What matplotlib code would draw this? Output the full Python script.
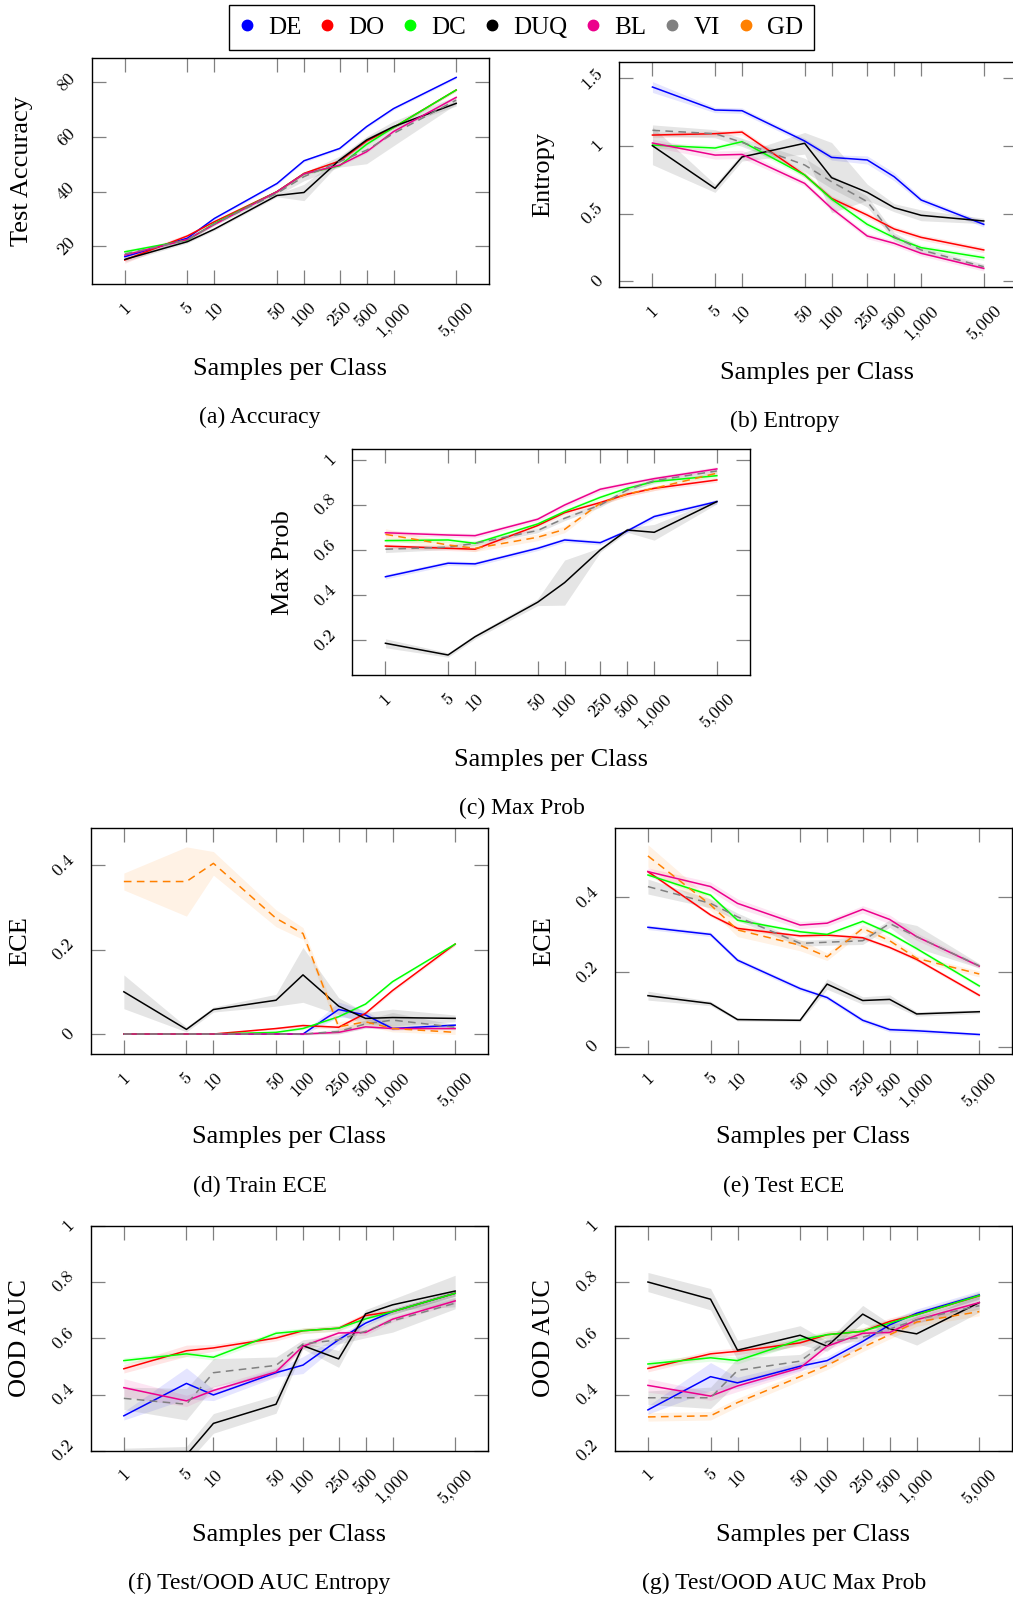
import matplotlib.pyplot as plt
from matplotlib.lines import Line2D

W, H = 1013, 1602

# x axis: samples per class
samples = [1, 5, 10, 50, 100, 250, 500, 1000, 5000]
sample_labels = ["1", "5", "10", "50", "100", "250", "500", "1,000", "5,000"]

methods = ["DE", "DO", "DC", "DUQ", "BL", "VI", "GD"]
colors = {"DE": "#0000ff", "DO": "#ff0000", "DC": "#00ff00", "DUQ": "#000000",
          "BL": "#ec008c", "VI": "#808080", "GD": "#ff8000"}
dashed = {"VI", "GD"}

# (a) Test accuracy
acc_mean = {
    "DE":  [16.2, 23.0, 30.2, 43.0, 51.3, 55.8, 63.8, 70.4, 81.8],
    "DO":  [15.0, 23.8, 29.0, 40.0, 46.7, 51.2, 58.5, 63.5, 77.2],
    "DC":  [18.0, 22.3, 28.4, 40.0, 46.5, 49.5, 57.3, 63.5, 77.2],
    "DUQ": [15.2, 21.7, 26.3, 38.6, 39.7, 51.6, 58.9, 63.8, 72.3],
    "BL":  [16.8, 22.5, 28.0, 40.0, 46.5, 49.7, 54.6, 62.0, 74.5],
    "VI":  [17.2, 22.3, 28.2, 39.4, 45.5, 51.0, 55.2, 61.3, 73.5],
}
acc_spread = {
    "DE":  [0.8, 0.5, 0.5, 0.5, 0.5, 0.5, 0.5, 0.5, 0.5],
    "DO":  [1.2, 0.8, 0.5, 0.5, 0.5, 0.5, 0.5, 0.5, 0.5],
    "DC":  [0.8, 0.5, 0.5, 0.5, 0.5, 0.5, 0.5, 0.5, 0.5],
    "DUQ": [0.8, 0.5, 0.5, 0.5, 3.0, 1.0, 1.0, 0.5, 1.0],
    "BL":  [0.6, 0.5, 0.5, 0.5, 0.5, 0.5, 0.5, 0.5, 0.5],
    "VI":  [0.8, 0.5, 0.5, 0.8, 1.5, 2.0, 5.0, 4.5, 1.5],
}

# (b) Entropy
ent_mean = {
    "DE":  [1.436, 1.266, 1.261, 1.037, 0.916, 0.897, 0.773, 0.601, 0.421],
    "DO":  [1.081, 1.091, 1.103, 0.786, 0.613, 0.490, 0.387, 0.325, 0.232],
    "DC":  [1.007, 0.985, 1.032, 0.786, 0.608, 0.421, 0.323, 0.249, 0.175],
    "DUQ": [1.002, 0.687, 0.919, 1.020, 0.766, 0.658, 0.544, 0.488, 0.446],
    "BL":  [1.022, 0.933, 0.938, 0.724, 0.539, 0.335, 0.281, 0.207, 0.096],
    "VI":  [1.116, 1.091, 1.027, 0.860, 0.736, 0.589, 0.330, 0.232, 0.108],
}
ent_spread = {
    "DE":  [0.04, 0.02, 0.02, 0.02, 0.02, 0.03, 0.03, 0.02, 0.02],
    "DO":  [0.02, 0.02, 0.02, 0.02, 0.02, 0.02, 0.02, 0.02, 0.02],
    "DC":  [0.02, 0.02, 0.02, 0.02, 0.02, 0.02, 0.02, 0.02, 0.02],
    "DUQ": [0.14, 0.03, 0.03, 0.08, 0.26, 0.06, 0.03, 0.04, 0.02],
    "BL":  [0.03, 0.03, 0.03, 0.02, 0.02, 0.02, 0.02, 0.02, 0.02],
    "VI":  [0.04, 0.03, 0.03, 0.05, 0.05, 0.04, 0.03, 0.02, 0.02],
}

# (c) Max prob
mp_mean = {
    "DE":  [0.482, 0.542, 0.539, 0.608, 0.645, 0.633, 0.685, 0.749, 0.815],
    "DO":  [0.618, 0.608, 0.604, 0.709, 0.766, 0.811, 0.848, 0.874, 0.911],
    "DC":  [0.642, 0.645, 0.630, 0.716, 0.771, 0.834, 0.874, 0.904, 0.930],
    "DUQ": [0.187, 0.135, 0.216, 0.369, 0.456, 0.601, 0.689, 0.679, 0.815],
    "BL":  [0.677, 0.667, 0.664, 0.737, 0.800, 0.870, 0.894, 0.917, 0.960],
    "VI":  [0.604, 0.613, 0.630, 0.687, 0.741, 0.800, 0.867, 0.908, 0.951],
    "GD":  [0.670, 0.623, 0.608, 0.657, 0.692, 0.808, 0.849, 0.874, 0.941],
}
mp_spread = {
    "DE":  [0.01, 0.01, 0.01, 0.01, 0.01, 0.01, 0.01, 0.01, 0.01],
    "DO":  [0.01, 0.01, 0.01, 0.01, 0.01, 0.01, 0.01, 0.01, 0.01],
    "DC":  [0.01, 0.01, 0.01, 0.01, 0.01, 0.01, 0.01, 0.01, 0.01],
    "DUQ": [0.02, 0.01, 0.01, 0.015, 0.10, 0.01, 0.01, 0.035, 0.01],
    "BL":  [0.01, 0.01, 0.01, 0.01, 0.01, 0.01, 0.01, 0.01, 0.01],
    "VI":  [0.015, 0.01, 0.01, 0.01, 0.01, 0.01, 0.01, 0.01, 0.01],
    "GD":  [0.025, 0.015, 0.015, 0.015, 0.015, 0.01, 0.01, 0.01, 0.01],
}

# (d) Train ECE
tr_mean = {
    "DE":  [0.0, 0.0, 0.0, 0.0, 0.0, 0.058, 0.045, 0.013, 0.021],
    "DO":  [0.0, 0.0, 0.0, 0.013, 0.020, 0.016, 0.049, 0.103, 0.213],
    "DC":  [0.0, 0.0, 0.0, 0.004, 0.013, 0.041, 0.071, 0.124, 0.213],
    "DUQ": [0.100, 0.011, 0.058, 0.080, 0.140, 0.066, 0.037, 0.039, 0.037],
    "BL":  [0.0, 0.0, 0.0, 0.0, 0.0, 0.004, 0.017, 0.013, 0.013],
    "VI":  [0.0, 0.0, 0.0, 0.0, 0.0, 0.006, 0.024, 0.033, 0.016],
    "GD":  [0.361, 0.361, 0.404, 0.274, 0.238, 0.017, 0.029, 0.013, 0.004],
}
tr_spread = {
    "DE":  [0.0, 0.0, 0.0, 0.0, 0.002, 0.018, 0.01, 0.004, 0.004],
    "DO":  [0.0, 0.0, 0.0, 0.003, 0.005, 0.004, 0.004, 0.004, 0.004],
    "DC":  [0.0, 0.0, 0.0, 0.003, 0.003, 0.003, 0.003, 0.003, 0.003],
    "DUQ": [0.04, 0.006, 0.006, 0.014, 0.065, 0.02, 0.014, 0.02, 0.008],
    "BL":  [0.0, 0.0, 0.0, 0.0, 0.0, 0.003, 0.003, 0.003, 0.003],
    "VI":  [0.0, 0.0, 0.0, 0.0, 0.002, 0.006, 0.01, 0.018, 0.006],
    "GD":  [0.02, 0.082, 0.028, 0.02, 0.014, 0.012, 0.01, 0.008, 0.005],
}

# (e) Test ECE
te_mean = {
    "DE":  [0.320, 0.301, 0.232, 0.156, 0.132, 0.071, 0.046, 0.043, 0.033],
    "DO":  [0.469, 0.353, 0.317, 0.297, 0.299, 0.292, 0.266, 0.234, 0.138],
    "DC":  [0.460, 0.406, 0.339, 0.308, 0.301, 0.336, 0.304, 0.263, 0.163],
    "DUQ": [0.137, 0.116, 0.073, 0.071, 0.168, 0.124, 0.127, 0.088, 0.094],
    "BL":  [0.469, 0.429, 0.384, 0.326, 0.331, 0.368, 0.341, 0.295, 0.216],
    "VI":  [0.429, 0.384, 0.348, 0.277, 0.280, 0.284, 0.330, 0.295, 0.217],
    "GD":  [0.511, 0.380, 0.313, 0.272, 0.241, 0.317, 0.284, 0.237, 0.195],
}
te_spread = {
    "DE":  [0.006, 0.006, 0.006, 0.006, 0.006, 0.006, 0.006, 0.006, 0.004],
    "DO":  [0.005, 0.005, 0.005, 0.005, 0.005, 0.005, 0.005, 0.005, 0.005],
    "DC":  [0.005, 0.005, 0.005, 0.005, 0.005, 0.005, 0.005, 0.005, 0.005],
    "DUQ": [0.012, 0.006, 0.004, 0.004, 0.014, 0.010, 0.012, 0.006, 0.005],
    "BL":  [0.010, 0.012, 0.012, 0.010, 0.008, 0.010, 0.012, 0.010, 0.006],
    "VI":  [0.020, 0.012, 0.010, 0.008, 0.008, 0.010, 0.010, 0.030, 0.006],
    "GD":  [0.030, 0.015, 0.018, 0.015, 0.010, 0.010, 0.010, 0.008, 0.008],
}

# (f) Test/OOD AUC entropy
aue_mean = {
    "DE":  [0.325, 0.440, 0.399, 0.478, 0.505, 0.595, 0.654, 0.695, 0.760],
    "DO":  [0.492, 0.556, 0.566, 0.601, 0.627, 0.636, 0.681, 0.695, 0.760],
    "DC":  [0.521, 0.545, 0.533, 0.618, 0.627, 0.636, 0.669, 0.695, 0.760],
    "DUQ": [0.180, 0.186, 0.298, 0.366, 0.574, 0.527, 0.687, 0.719, 0.768],
    "BL":  [0.425, 0.378, 0.415, 0.481, 0.572, 0.619, 0.621, 0.668, 0.733],
    "VI":  [0.387, 0.366, 0.478, 0.504, 0.580, 0.595, 0.625, 0.662, 0.725],
}
aue_spread = {
    "DE":  [0.015, 0.055, 0.020, 0.015, 0.030, 0.015, 0.010, 0.010, 0.010],
    "DO":  [0.015, 0.020, 0.012, 0.010, 0.010, 0.010, 0.010, 0.010, 0.010],
    "DC":  [0.010, 0.010, 0.010, 0.010, 0.010, 0.010, 0.010, 0.010, 0.010],
    "DUQ": [0.030, 0.030, 0.035, 0.032, 0.012, 0.030, 0.015, 0.020, 0.056],
    "BL":  [0.032, 0.020, 0.015, 0.015, 0.010, 0.010, 0.010, 0.010, 0.010],
    "VI":  [0.040, 0.056, 0.050, 0.030, 0.015, 0.015, 0.023, 0.040, 0.020],
}

# (g) Test/OOD AUC max prob
aum_mean = {
    "DE":  [0.346, 0.464, 0.442, 0.501, 0.521, 0.589, 0.648, 0.689, 0.754],
    "DO":  [0.493, 0.545, 0.554, 0.584, 0.613, 0.625, 0.660, 0.684, 0.751],
    "DC":  [0.509, 0.531, 0.521, 0.595, 0.613, 0.625, 0.654, 0.684, 0.752],
    "DUQ": [0.800, 0.739, 0.558, 0.611, 0.572, 0.686, 0.633, 0.616, 0.727],
    "BL":  [0.433, 0.395, 0.431, 0.495, 0.572, 0.618, 0.621, 0.666, 0.727],
    "VI":  [0.389, 0.389, 0.486, 0.519, 0.589, 0.604, 0.633, 0.666, 0.716],
    "GD":  [0.321, 0.325, 0.372, 0.464, 0.504, 0.568, 0.613, 0.658, 0.695],
}
aum_spread = {
    "DE":  [0.015, 0.050, 0.020, 0.015, 0.015, 0.015, 0.015, 0.015, 0.015],
    "DO":  [0.012, 0.012, 0.012, 0.012, 0.012, 0.012, 0.012, 0.012, 0.012],
    "DC":  [0.012, 0.012, 0.012, 0.012, 0.012, 0.012, 0.012, 0.012, 0.012],
    "DUQ": [0.034, 0.038, 0.035, 0.034, 0.018, 0.031, 0.020, 0.040, 0.034],
    "BL":  [0.024, 0.015, 0.020, 0.015, 0.012, 0.012, 0.012, 0.012, 0.012],
    "VI":  [0.024, 0.038, 0.044, 0.024, 0.012, 0.012, 0.012, 0.012, 0.012],
    "GD":  [0.015, 0.015, 0.015, 0.015, 0.015, 0.015, 0.015, 0.015, 0.015],
}

plt.rcParams['font.family'] = 'Liberation Serif'
TICK_FONT = 'cmr10'

fig = plt.figure(figsize=(W / 100, H / 100), dpi=100)


def add_axes_px(left, top, width, height):
    return fig.add_axes([left / W, 1 - (top + height) / H, width / W, height / H])


def fig_text(x, y, s, size, rotation=0):
    fig.text(x / W, 1 - y / H, s, fontsize=size, rotation=rotation,
             ha='center', va='center')


def panel(box, means, spreads, ylim, yticks, ylabels):
    ax = add_axes_px(*box)
    ax.set_xscale('log')
    # shaded bands first, then lines on top
    for m in methods:
        if m not in means:
            continue
        lo = [v - s for v, s in zip(means[m], spreads[m])]
        hi = [v + s for v, s in zip(means[m], spreads[m])]
        a = 0.2 if m == "VI" else 0.1
        ax.fill_between(samples, lo, hi, color=colors[m], alpha=a, lw=0)
    for m in methods:
        if m not in means:
            continue
        ls = (0, (5, 3.5)) if m in dashed else '-'
        ax.plot(samples, means[m], color=colors[m], lw=1.1, linestyle=ls)
    ax.set_xlim(10 ** -0.37, 10 ** 4.069)
    ax.set_ylim(*ylim)
    ax.minorticks_off()
    ax.set_xticks(samples)
    ax.set_xticklabels(sample_labels, rotation=45, fontfamily=TICK_FONT, fontsize=13)
    ax.set_yticks(yticks)
    ax.set_yticklabels(ylabels, rotation=45, fontfamily=TICK_FONT, fontsize=13,
                       va='center', ha='right')
    ax.tick_params(direction='in', length=10, width=0.9, color='#808080',
                   top=True, right=True)
    ax.tick_params(axis='x', pad=11)
    ax.tick_params(axis='y', pad=10)
    for sp in ax.spines.values():
        sp.set_linewidth(1.0)
    return ax


panel((91.7, 58.3, 397.6, 226), acc_mean, acc_spread, (6.1, 88.8),
      [20, 40, 60, 80], ["20", "40", "60", "80"])
panel((619.3, 61.7, 397.6, 225.6), ent_mean, ent_spread, (-0.044, 1.623),
      [0, 0.5, 1, 1.5], ["0", "0.5", "1", "1.5"])
panel((352.3, 449.3, 397.7, 226), mp_mean, mp_spread, (0.045, 1.047),
      [0.2, 0.4, 0.6, 0.8, 1.0], ["0.2", "0.4", "0.6", "0.8", "1"])
panel((90.7, 828.3, 397.6, 226), tr_mean, tr_spread, (-0.048, 0.487),
      [0, 0.2, 0.4], ["0", "0.2", "0.4"])
panel((614.8, 828.3, 397.6, 226), te_mean, te_spread, (-0.020, 0.585),
      [0, 0.2, 0.4], ["0", "0.2", "0.4"])
auc_ticks = [0.2, 0.4, 0.6, 0.8, 1.0]
auc_labels = ["0.2", "0.4", "0.6", "0.8", "1"]
panel((90.7, 1225.7, 397.6, 225.3), aue_mean, aue_spread, (0.2, 1.0),
      auc_ticks, auc_labels)
panel((614.8, 1225.7, 397.6, 225.3), aum_mean, aum_spread, (0.2, 1.0),
      auc_ticks, auc_labels)

# axis labels and captions
LAB, CAP = 19, 17
fig_text(22, 171.5, "Test Accuracy", LAB, 90)
fig_text(543.3, 174.5, "Entropy", LAB, 90)
fig_text(282.9, 562.3, "Max Prob", LAB, 90)
fig_text(20.4, 941.3, "ECE", LAB, 90)
fig_text(544.3, 941.3, "ECE", LAB, 90)
fig_text(20.4, 1338.4, "OOD AUC", LAB, 90)
fig_text(544.3, 1338.4, "OOD AUC", LAB, 90)

fig_text(290, 368.6, "Samples per Class", LAB)
fig_text(817, 372.7, "Samples per Class", LAB)
fig_text(551.4, 759.8, "Samples per Class", LAB)
fig_text(289, 1136.6, "Samples per Class", LAB)
fig_text(812.9, 1136.6, "Samples per Class", LAB)
fig_text(289, 1534.9, "Samples per Class", LAB)
fig_text(812.9, 1534.9, "Samples per Class", LAB)

fig_text(259.4, 417.7, "(a) Accuracy", CAP)
fig_text(784.3, 421.8, "(b) Entropy", CAP)
fig_text(521.8, 808.8, "(c) Max Prob", CAP)
fig_text(260.4, 1186.6, "(d) Train ECE", CAP)
fig_text(783.3, 1186.6, "(e) Test ECE", CAP)
fig_text(259.4, 1583.9, "(f) Test/OOD AUC Entropy", CAP)
fig_text(784.3, 1583.9, "(g) Test/OOD AUC Max Prob", CAP)

# legend
handles = [Line2D([], [], marker='o', ls='none', markersize=7.5,
                  markerfacecolor=colors[m], markeredgecolor=colors[m])
           for m in methods]
leg = fig.legend(handles, methods, loc='center', ncol=7,
                 bbox_to_anchor=(521.9 / W, 1 - 27.5 / H),
                 fontsize=18, frameon=True, fancybox=False, edgecolor='black',
                 framealpha=1, handlelength=0.5, handletextpad=0.6,
                 columnspacing=0.78, borderpad=0.45)
leg.get_frame().set_linewidth(1.0)

fig.savefig("out.png", dpi=100)
